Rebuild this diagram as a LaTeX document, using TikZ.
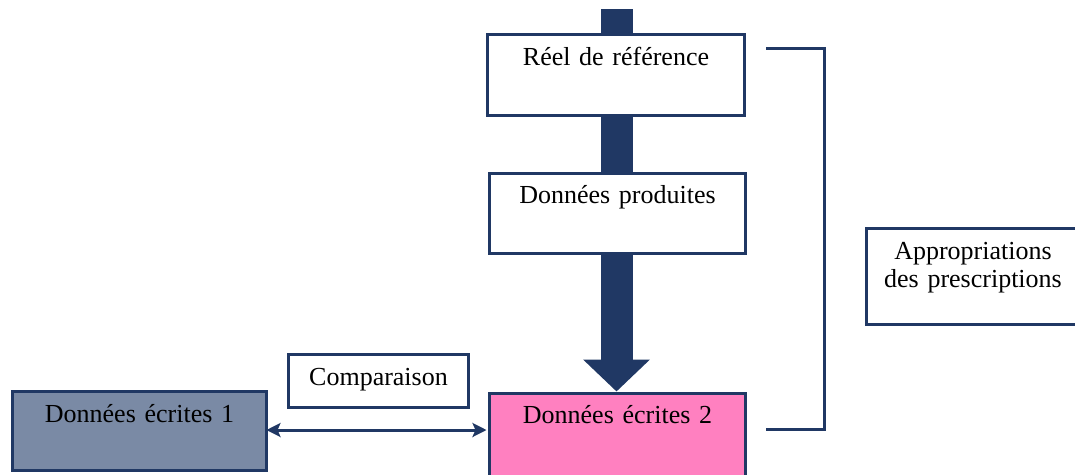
\documentclass[tikz,border=0pt]{standalone}
\usepackage{fontspec}
\setmainfont{Liberation Serif}
\usetikzlibrary{arrows.meta,calc}
\definecolor{navy}{HTML}{203864}
\definecolor{greyblue}{HTML}{7A8AA5}
\definecolor{pinkfill}{HTML}{FF80C0}
\tikzset{
  boxstyle/.style={draw=navy, line width=3pt, fill=white, inner sep=0pt, outer sep=0pt,
    align=center, anchor=north west, font=\fontsize{26}{28}\selectfont},
  bigarrow/.style={line width=32pt, navy, -{Triangle[width=65pt,length=32pt]}},
  thinline/.style={navy, line width=3pt},
  cmparrow/.style={navy, line width=3pt, {Stealth[length=14pt,width=14pt,inset=3pt]}-{Stealth[length=14pt,width=14pt,inset=3pt]}}
}
\begin{document}
\begin{tikzpicture}[x=1pt,y=-1pt]
\useasboundingbox (0,0) rectangle (1075,474);
\coordinate (src) at (616.5,9);
% boxes
\node[boxstyle, text width=257pt, text height=30.5pt, text depth=50.5pt] (b1) at (487.5,34.5) {Réel de référence};
\node[boxstyle, text width=256pt, text height=29.5pt, text depth=50.5pt] (b2) at (489.5,173.5) {Données produites};
\node[boxstyle, fill=pinkfill, text width=256pt, text height=29.5pt, text depth=60pt] (b3) at (489.5,393.5) {Données écrites 2};
\node[boxstyle, fill=greyblue, text width=254pt, text height=30.5pt, text depth=48.5pt] (de1) at (12.5,391.5) {Données écrites 1};
\node[boxstyle, text width=180pt, text height=30.5pt, text depth=22.5pt] (cmp) at (288.5,354.5) {Comparaison};
\node[boxstyle, text width=213pt, text height=30.5pt, text depth=65.5pt] (appr) at (866.5,228.5) {Appropriations\\des prescriptions};
% big arrow (passes behind the two white boxes)
\coordinate (tipend) at ([yshift=2pt]src |- b3.north);
\draw[bigarrow] (src) -- (tipend);
% redraw the white boxes on top of the arrow
\node[boxstyle, text width=257pt, text height=30.5pt, text depth=50.5pt] at (487.5,34.5) {Réel de référence};
\node[boxstyle, text width=256pt, text height=29.5pt, text depth=50.5pt] at (489.5,173.5) {Données produites};
% comparison arrow
\draw[cmparrow, shorten >=3pt] ([yshift=1pt]de1.east) -- ([yshift=1pt]de1.east -| b3.west);
% bracket
\coordinate (brt) at (766,48);
\coordinate (brb) at (766,429);
\draw[thinline] (brt) -- (824,48) -- (824,429) -- (brb);
\end{tikzpicture}
\end{document}
